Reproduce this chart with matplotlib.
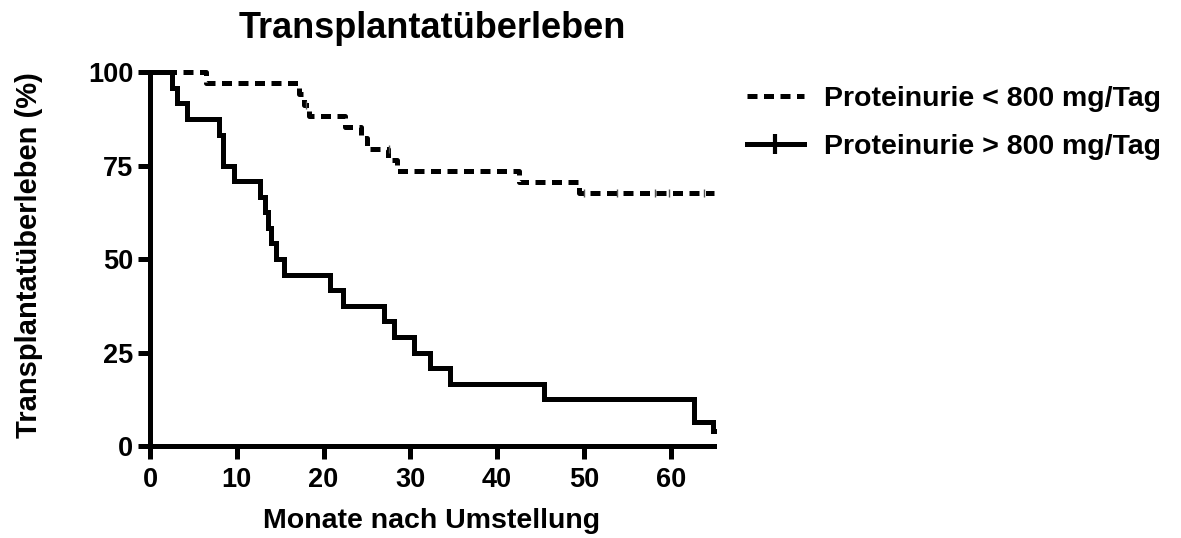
import matplotlib
matplotlib.use("Agg")
from matplotlib import pyplot as plt
from matplotlib.lines import Line2D

plt.rcParams['font.family'] = ['Liberation Sans', 'DejaVu Sans']
plt.rcParams['font.weight'] = 'bold'

# Kaplan-Meier Stufen
t_low = [0, 6.5, 17.2, 17.8, 18.3, 22.5, 24.3, 25.0, 27.4, 28.5, 42.5, 49.4, 65]
s_low = [100, 97.1, 94.1, 91.2, 88.2, 85.3, 82.4, 79.4, 76.5, 73.5, 70.6, 67.6, 67.6]
cens_t_low = [18.0, 27.6, 50.0, 53.8, 58.2, 59.8, 63.8]
cens_s_low = [91.2, 79.4, 67.6, 67.6, 67.6, 67.6, 67.6]

t_high = [0, 2.5, 3.1, 4.3, 8.0, 8.4, 9.7, 12.7, 13.3, 13.6, 13.9, 14.5, 15.5,
          20.8, 22.2, 27.0, 28.1, 30.4, 32.3, 34.6, 45.4, 62.7, 64.9, 65]
s_high = [100, 95.8, 91.7, 87.5, 83.3, 75.0, 70.8, 66.7, 62.5, 58.3, 54.2, 50.0, 45.8,
          41.7, 37.5, 33.3, 29.2, 25.0, 20.8, 16.7, 12.5, 6.3, 4.0, 4.0]

labels = ['Proteinurie < 800 mg/Tag', 'Proteinurie > 800 mg/Tag']
x_ticks = [0, 10, 20, 30, 40, 50, 60]
y_ticks = [0, 25, 50, 75, 100]

W, H = 1181, 538
fig = plt.figure(figsize=(W / 100, H / 100), dpi=100)
ax = fig.add_axes([0.127, 0.171, 0.4776, 0.695])

lw = 3.6
ax.step(t_low, s_low, where='post', color='black', lw=lw,
        dashes=(2.0, 1.3), clip_on=False, solid_joinstyle='miter')
ax.plot(cens_t_low, cens_s_low, ls='none', marker='|', ms=6, mew=1,
        color='#555555', clip_on=False)
ax.step(t_high, s_high, where='post', color='black', lw=lw,
        clip_on=False, solid_joinstyle='miter')

ax.set_xlim(0, 65)
ax.set_ylim(0, 100)
ax.set_xticks(x_ticks)
ax.set_yticks(y_ticks)
for side in ['top', 'right']:
    ax.spines[side].set_visible(False)
for side in ['left', 'bottom']:
    ax.spines[side].set_linewidth(lw)
ax.tick_params(axis='both', direction='out', length=9, width=lw, labelsize=19.5)
ax.tick_params(axis='x', pad=6)
ax.tick_params(axis='y', pad=3)
for lab in ax.get_xticklabels() + ax.get_yticklabels():
    lab.set_fontweight('bold')

fig.text(432 / W, 1 - 38 / H, 'Transplantatüberleben', fontsize=26,
         fontweight='bold', ha='center', va='baseline')
ax.set_xlabel('Monate nach Umstellung', fontsize=20.5, fontweight='bold')
ax.set_ylabel('Transplantatüberleben (%)', fontsize=21, fontweight='bold')
ax.xaxis.set_label_coords(0.5, -0.167)
ax.yaxis.set_label_coords(-0.19, 0.51)

handles = [
    Line2D([], [], color='black', lw=lw, dashes=(2.0, 1.3)),
    Line2D([], [], color='black', lw=lw, marker='|', ms=14, mew=3),
]
leg = fig.legend(handles, labels, loc='upper left', bbox_to_anchor=(747 / W, 1 - 86 / H),
                 frameon=False, fontsize=20.5, handlelength=2.0, handletextpad=0.7,
                 labelspacing=0.76, borderaxespad=0, borderpad=0)
for txt in leg.get_texts():
    txt.set_fontweight('bold')

fig.savefig('out.png', dpi=100)
plt.close(fig)
